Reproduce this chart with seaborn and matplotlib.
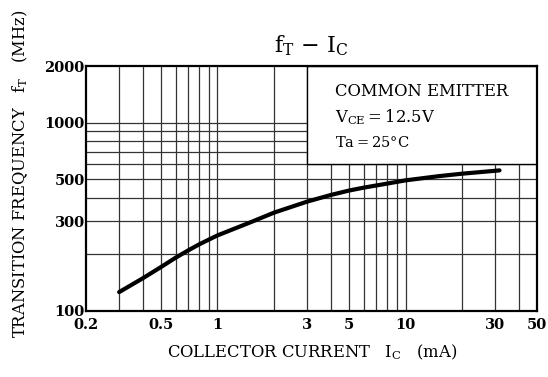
import numpy as np
import pandas as pd
import seaborn as sns
import matplotlib.pyplot as plt
from matplotlib.patches import Rectangle
from matplotlib.ticker import FixedLocator, NullFormatter

# curve
ic_ma = [0.3, 0.4, 0.5, 0.6, 0.7, 0.8, 1, 1.5, 2, 3, 4, 5, 6, 8, 10, 15, 20, 31.6]
ft_mhz = [126, 149, 171, 192, 210, 226, 252, 296, 333, 381, 413, 436, 452, 475, 494, 520, 536, 558]

x_ticks = [0.2, 0.5, 1, 3, 5, 10, 30, 50]
x_labels = ["0.2", "0.5", "1", "3", "5", "10", "30", "50"]
y_ticks = [100, 300, 500, 1000, 2000]
y_labels = ["100", "300", "500", "1000", "2000"]
x_grid = [0.3, 0.4, 0.5, 0.6, 0.7, 0.8, 0.9, 1, 2, 3, 4, 5, 6, 7, 8, 9, 10, 20, 30, 40]
y_grid = [200, 300, 400, 500, 600, 700, 800, 900, 1000]

sns.set_style("white")
plt.rcParams['font.family'] = ['DejaVu Serif']
plt.rcParams['mathtext.fontset'] = 'dejavuserif'
plt.rcParams['text.color'] = 'black'
plt.rcParams['xtick.color'] = 'black'
plt.rcParams['ytick.color'] = 'black'

fig = plt.figure(figsize=(5.48, 3.77), dpi=100)
ax = fig.add_axes([86 / 548, 1 - 311 / 377, 451 / 548, 245 / 377])

df = pd.DataFrame({"ic": ic_ma, "ft": ft_mhz})
sns.lineplot(data=df, x="ic", y="ft", ax=ax, color="black", lw=3, zorder=4)

ax.set_xscale("log")
ax.set_yscale("log")
ax.set_xlim(0.2, 50)
ax.set_ylim(100, 2000)

for xv in x_grid:
    ax.axvline(xv, color="#333333", lw=0.9, zorder=1)
for yv in y_grid:
    ax.axhline(yv, color="#333333", lw=0.9, zorder=1)

# condition box covers the grid in the upper right
ax.add_patch(Rectangle((3, 600), 47, 1400, facecolor="white",
                       edgecolor="black", lw=1.0, zorder=2))

ax.xaxis.set_major_locator(FixedLocator(x_ticks))
ax.yaxis.set_major_locator(FixedLocator(y_ticks))
ax.xaxis.set_minor_formatter(NullFormatter())
ax.yaxis.set_minor_formatter(NullFormatter())
ax.set_xticklabels(x_labels)
ax.set_yticklabels(y_labels)
ax.tick_params(which="both", length=0, labelsize=10.5)
ax.tick_params(axis="x", pad=5)
ax.tick_params(axis="y", pad=1)
for lab in ax.get_xticklabels() + ax.get_yticklabels():
    lab.set_fontweight("bold")

for s in ax.spines.values():
    s.set_color("black")
    s.set_linewidth(1.6)
    s.set_zorder(5)

ax.set_xlabel("")
ax.set_ylabel("")

fig.text(311 / 548, 1 - 46 / 377, r"f$_\mathregular{T}$ $-$ I$_\mathregular{C}$",
         ha="center", va="center", fontsize=16)
fig.text(312 / 548, 1 - 352 / 377,
         r"COLLECTOR CURRENT   I$_\mathregular{C}$   (mA)",
         ha="center", va="center", fontsize=11.8)
fig.text(20 / 548, 1 - 174 / 377,
         r"TRANSITION FREQUENCY   f$_\mathregular{T}$   (MHz)",
         ha="center", va="center", rotation=90, fontsize=11.8)

ax.text(0.552, 0.894, "COMMON EMITTER", transform=ax.transAxes, fontsize=11.8, va="center")
ax.text(0.552, 0.79, r"V$_\mathregular{CE}$$=$12.5V", transform=ax.transAxes, fontsize=11.8, va="center")
ax.text(0.552, 0.686, "Ta$=$25°C", transform=ax.transAxes, fontsize=10.5, va="center")

fig.savefig("out.png", dpi=100)
